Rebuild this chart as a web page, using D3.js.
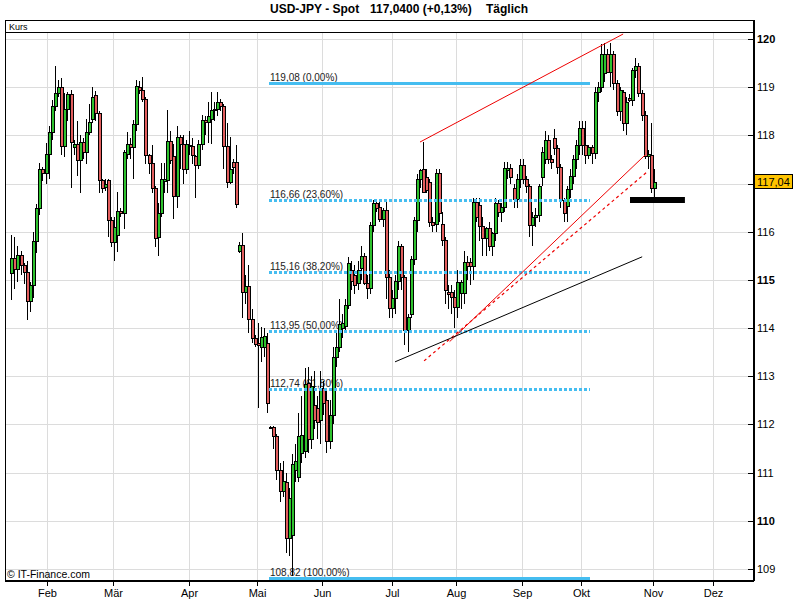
<!DOCTYPE html>
<html><head><meta charset="utf-8">
<script src="https://cdn.jsdelivr.net/npm/d3@7"></script>
<style>body{margin:0;background:#fff} svg{display:block;font-family:"Liberation Sans",Arial,sans-serif}</style>
</head><body><svg id="c" width="800" height="600"></svg>
<script>
const open=[115.15,115.46,115.22,115.51,115.32,115.17,114.57,114.90,115.80,116.50,117.30,117.22,117.62,118.08,118.60,118.89,119.01,117.78,118.54,118.85,117.75,117.83,117.48,117.87,117.66,118.08,118.33,118.84,118.46,117.07,116.93,117.07,116.25,115.78,115.94,116.43,116.39,117.62,117.83,117.76,118.24,119.00,118.95,118.75,117.60,117.42,116.91,115.90,116.39,117.05,117.07,117.89,117.57,116.75,117.96,117.83,117.31,117.80,117.78,117.57,117.38,117.82,118.32,118.27,118.33,118.53,118.55,118.70,118.60,117.78,117.03,117.44,117.44,115.61,115.72,114.74,114.87,114.19,113.79,113.70,113.61,113.61,113.70,111.93,111.95,111.76,111.06,110.61,110.80,109.64,109.71,111.06,110.92,111.40,111.44,112.87,111.69,112.40,112.35,112.10,112.75,112.50,111.65,112.20,113.39,113.60,114.00,114.05,114.48,115.21,115.10,114.93,115.25,115.50,114.93,114.83,116.14,116.59,116.52,116.27,116.45,115.07,114.41,114.62,114.97,115.70,115.07,113.96,114.30,115.44,116.24,117.10,117.30,117.14,117.04,116.20,116.17,117.21,116.17,115.83,114.75,114.75,114.65,114.44,114.72,114.72,115.38,115.38,115.28,116.62,116.55,116.11,115.86,116.07,115.70,115.97,116.59,116.42,116.52,117.28,117.32,116.90,116.68,117.10,117.38,117.10,116.94,116.14,116.30,116.35,117.14,117.52,117.90,117.52,117.94,117.73,117.35,116.66,116.53,116.88,117.15,117.50,117.80,118.15,117.80,117.60,117.75,117.64,118.90,119.00,119.30,119.69,119.32,119.69,119.08,118.50,118.90,118.25,118.78,118.74,119.36,119.43,118.88,118.43,117.57,117.60,116.91];
const high=[115.94,115.89,115.70,115.60,115.35,115.40,114.95,116.00,116.58,117.43,117.35,117.85,118.20,118.74,119.43,119.15,119.19,118.87,118.90,118.94,117.90,118.30,118.00,117.95,118.33,118.65,119.01,118.92,118.50,117.10,117.10,117.10,116.30,116.30,116.82,116.50,117.70,118.08,117.95,118.32,119.15,119.12,119.22,118.80,117.62,117.80,116.95,116.60,117.42,117.42,118.53,118.10,117.83,118.20,118.00,118.00,117.90,118.10,117.95,117.60,117.90,118.42,118.40,118.70,118.91,118.70,118.90,118.75,118.65,118.25,117.97,117.50,117.80,115.78,115.97,115.10,115.30,114.40,113.85,114.10,114.03,114.00,113.90,111.97,111.97,111.80,111.20,111.24,111.00,110.68,111.38,111.60,112.24,112.60,113.18,113.20,113.00,113.10,112.60,113.10,112.90,112.70,112.50,113.60,113.90,114.60,114.30,114.60,115.48,115.40,115.30,115.40,115.70,115.55,115.10,116.20,116.66,116.66,116.66,116.50,116.66,115.20,114.80,115.10,115.80,115.75,115.10,114.30,115.50,116.30,117.20,117.30,117.87,117.30,117.10,116.30,117.30,117.30,116.40,115.90,114.90,114.90,114.80,115.20,115.00,115.60,115.50,115.45,116.70,116.70,116.70,116.30,116.10,116.20,116.00,116.70,116.65,116.60,117.45,117.45,117.40,117.00,117.20,117.50,117.50,117.15,117.00,116.40,116.50,117.00,117.75,118.10,118.00,117.60,118.14,117.80,117.40,116.70,116.95,117.30,117.60,117.90,118.30,118.30,118.30,117.80,117.80,119.00,119.10,119.90,119.92,119.80,119.92,119.75,119.15,119.00,118.95,118.80,118.85,119.40,119.60,119.50,118.95,118.50,117.70,118.25,117.30];
const low=[114.58,114.81,114.95,115.10,114.92,114.17,114.33,114.62,115.55,116.35,117.05,117.00,117.10,117.90,118.50,118.80,117.60,117.56,118.30,116.90,117.60,117.15,116.80,117.50,117.40,118.00,118.25,118.30,116.80,116.80,116.85,115.90,115.68,115.40,115.58,116.30,116.06,117.50,117.50,117.10,118.10,118.85,118.70,117.40,117.20,116.80,115.68,115.50,116.30,116.80,116.80,117.40,116.27,116.50,117.30,117.00,117.20,117.60,117.40,116.70,117.30,117.70,118.00,117.85,117.83,118.30,118.40,118.50,117.30,116.90,117.00,117.20,116.50,115.55,114.22,114.50,113.90,113.70,113.60,112.35,113.30,113.40,112.24,111.90,111.50,110.85,110.40,110.50,109.33,109.26,108.85,110.80,110.80,111.20,111.30,111.40,111.50,111.90,111.70,111.60,112.20,111.40,111.50,112.00,113.20,113.50,113.80,113.90,114.40,114.80,114.70,114.80,115.00,114.90,114.60,114.70,116.00,116.40,116.20,116.10,114.60,114.20,114.20,114.30,114.80,114.80,113.65,113.50,114.20,115.30,116.00,116.90,116.80,116.80,116.10,116.00,116.00,116.20,115.70,114.50,114.40,114.30,114.00,114.20,114.40,114.50,115.00,114.90,115.00,116.20,115.80,115.50,115.50,115.60,115.50,115.80,116.30,116.20,116.40,117.10,117.00,116.50,116.50,116.90,117.00,116.80,115.90,115.70,116.10,116.20,116.95,117.40,117.40,117.30,117.60,117.20,116.50,116.20,116.20,116.70,117.00,117.30,117.60,117.60,117.40,117.50,117.40,117.50,118.70,118.90,119.10,119.30,119.00,118.95,118.40,118.30,118.10,118.00,118.70,118.60,119.20,118.80,118.30,117.50,117.30,116.80,116.60];
const close=[115.46,115.22,115.51,115.32,115.17,114.57,114.90,115.80,116.50,117.30,117.22,117.62,118.08,118.60,118.89,119.01,117.78,118.54,118.85,117.86,117.83,117.48,117.87,117.66,118.08,118.28,118.80,118.46,117.07,116.90,117.00,116.25,115.78,116.10,116.43,116.39,117.65,117.83,117.76,118.24,119.03,118.95,118.75,117.60,117.42,116.91,115.88,116.39,117.10,117.10,117.89,117.49,116.75,117.96,117.83,117.31,117.83,117.78,117.60,117.38,117.82,118.32,118.27,118.40,118.53,118.55,118.70,118.60,117.78,117.03,117.31,117.35,116.58,115.72,114.74,114.87,114.19,113.79,113.68,113.65,113.81,113.84,112.45,111.95,111.76,111.06,110.61,110.82,109.64,110.47,111.17,111.24,111.76,111.78,112.83,111.69,112.80,112.10,112.05,112.75,112.45,111.65,112.20,113.39,113.60,114.08,114.10,114.48,115.35,114.97,114.90,115.21,115.50,114.93,114.83,116.14,116.59,116.50,116.27,116.45,115.07,114.41,114.62,114.97,115.70,115.07,113.96,114.23,115.44,116.24,117.10,117.28,116.83,116.87,116.21,116.15,117.21,116.38,115.83,114.79,114.70,114.65,114.44,114.96,114.96,115.38,115.28,115.28,116.62,116.31,116.11,115.86,116.07,115.70,115.97,116.59,116.42,116.52,117.32,117.32,117.14,116.68,117.10,117.38,117.10,116.94,116.14,116.30,116.35,116.94,117.66,117.90,117.52,117.45,117.73,117.35,116.66,116.38,116.88,117.15,117.50,117.80,118.15,117.80,117.60,117.75,117.64,118.90,119.00,119.69,119.69,119.32,119.69,119.08,118.50,118.95,118.25,118.70,118.74,119.36,119.43,118.88,118.43,117.57,117.62,116.91,117.04];

const monthLabels=["Feb","Mär","Apr","Mai","Jun","Jul","Aug","Sep","Okt","Nov","Dez"];
const monthIdx=[11.56,32.71,56.87,78.67,99.67,121.96,142.6,163.6,182.6,205.8,224.8];
const yTicks=[109,110,111,112,113,114,115,116,117,118,119,120];
const boldTicks=[110,115,120];
const fibPrices=[119.08,116.66,115.16,113.95,112.74,108.82];
const fibLabels=["119,08 (0,00%)","116,66 (23,60%)","115,16 (38,20%)","113,95 (50,00%)","112,74 (61,80%)","108,82 (100,00%)"];
const fibDotted=[false,true,true,true,true,false];
const fibFromIdx=82.6, fibToIdx=185.5;
// trend lines: [startIdx, startPrice, endIdx, endPrice]
const redSolidLines=[[131.0,117.862,196.1,120.104],[140.5,113.72,203.1,117.59]];
const redDashedLines=[[132.3,113.32,204.1,117.26]];
const blackLines=[[123.0,113.30,202.2,115.48]];
const markerBar=[198.3,215.9,116.66];
const lastPrice=117.04;
const lastLabel="117,04";
const titleParts=["USD-JPY - Spot","117,0400 (+0,13%)","Täglich"];

const svg=d3.select("#c");
const L=5,R=753,T=33,B=580;
const x=d3.scaleLinear().domain([-2,237.4]).range([L,752]);
const y=d3.scaleLinear().domain([108.772,120.125]).range([B,T]);

// title
const tx=[270,370,486];
titleParts.forEach((t,i)=>svg.append("text").attr("x",tx[i]).attr("y",13).attr("font-size",12).attr("font-weight","bold").text(t));

// Kurs box
svg.append("rect").attr("x",L+0.5).attr("y",20.5).attr("width",R-L).attr("height",12).attr("fill","#fff").attr("stroke","#000");
svg.append("text").attr("x",9).attr("y",30).attr("font-size",9).text("Kurs");

const g=svg.append("g").attr("shape-rendering","crispEdges");
// grid
g.selectAll(".hg").data(yTicks).enter().append("line")
 .attr("x1",L).attr("x2",R).attr("y1",d=>Math.round(y(d))+0.5).attr("y2",d=>Math.round(y(d))+0.5)
 .attr("stroke","#dcdcdc");
g.selectAll(".vg").data(monthIdx).enter().append("line")
 .attr("x1",d=>Math.round(x(d))+0.5).attr("x2",d=>Math.round(x(d))+0.5).attr("y1",T).attr("y2",B)
 .attr("stroke","#dcdcdc");

// fib labels (under candles)
const fx1=x(fibFromIdx), fx2=x(fibToIdx);
fibPrices.forEach((p,i)=>{
  svg.append("text").attr("x",fx1+1).attr("y",Math.round(y(p))-2.5).attr("font-size",10).attr("fill","#222").text(fibLabels[i]);
});

// candles
const cg=svg.append("g").attr("shape-rendering","crispEdges");
open.forEach((o,i)=>{
  const c=close[i];
  const cx=Math.round(x(i));
  const yh=Math.round(y(high[i])), yl=Math.round(y(low[i]));
  cg.append("rect").attr("x",cx).attr("y",yh).attr("width",1).attr("height",Math.max(1,yl-yh)).attr("fill","#000");
  const top=Math.round(y(Math.max(o,c))), bot=Math.round(y(Math.min(o,c)));
  const h=Math.max(bot-top,1);
  cg.append("rect").attr("x",cx-1).attr("y",top).attr("width",4).attr("height",h+1).attr("fill","#000");
  if(h>=2) cg.append("rect").attr("x",cx).attr("y",top+1).attr("width",2).attr("height",h-1).attr("fill",c>=o?"#2ec22e":"#e25e5e");
});

// fib lines
fibPrices.forEach((p,i)=>{
  const yy=Math.round(y(p))+0.5;
  svg.append("line").attr("x1",fx1).attr("x2",fx2).attr("y1",yy).attr("y2",yy)
   .attr("stroke","#45bdf0").attr("stroke-width",3).attr("shape-rendering","crispEdges")
   .attr("stroke-dasharray",fibDotted[i]?"3,2":null);
});

// trend lines
const line=(d,col,dash,w)=>svg.append("line").attr("x1",x(d[0])).attr("y1",y(d[1])).attr("x2",x(d[2])).attr("y2",y(d[3]))
   .attr("stroke",col).attr("stroke-width",w).attr("stroke-dasharray",dash);
redSolidLines.forEach(d=>line(d,"#ee0000",null,1));
redDashedLines.forEach(d=>line(d,"#ee0000","3,3",1.2));
blackLines.forEach(d=>line(d,"#000",null,1));

// marker bar
svg.append("rect").attr("x",x(markerBar[0])).attr("width",x(markerBar[1])-x(markerBar[0]))
  .attr("y",Math.round(y(markerBar[2]))-3).attr("height",6).attr("fill","#000");

// frame
const fg=svg.append("g").attr("shape-rendering","crispEdges");
fg.append("line").attr("x1",L+0.5).attr("x2",L+0.5).attr("y1",20).attr("y2",B+1).attr("stroke","#000");
fg.append("line").attr("x1",L).attr("x2",R+1).attr("y1",B+0.5).attr("y2",B+0.5).attr("stroke","#000").attr("stroke-width",2);
fg.append("line").attr("x1",R+1).attr("x2",R+1).attr("y1",20).attr("y2",B+1).attr("stroke","#000").attr("stroke-width",2);

// right axis (the label next to the last-price box is covered by it, as in the reference)
const ly=Math.round(y(lastPrice));
yTicks.forEach(t=>{
  const yy=Math.round(y(t))+0.5;
  fg.append("line").attr("x1",R-5).attr("x2",R).attr("y1",yy).attr("y2",yy).attr("stroke","#000");
  if(Math.abs(yy-ly)<14) return;
  svg.append("text").attr("x",R+4).attr("y",yy).attr("dy","0.35em").attr("font-size",11)
    .attr("font-weight",boldTicks.includes(t)?"bold":"normal").text(t);
});
// bottom axis
monthIdx.forEach((m,i)=>{
  const xx=Math.round(x(m))+0.5;
  fg.append("line").attr("x1",xx).attr("x2",xx).attr("y1",B).attr("y2",B+6).attr("stroke","#000");
  svg.append("text").attr("x",xx).attr("y",597).attr("text-anchor","middle").attr("font-size",11).text(monthLabels[i]);
});

// last price box
svg.append("rect").attr("x",R+1.5).attr("y",ly-7.5).attr("width",38).attr("height",14).attr("fill","#ffc400").attr("stroke","#000");
svg.append("text").attr("x",R+4).attr("y",ly).attr("dy","0.36em").attr("font-size",11).text(lastLabel);

// copyright
svg.append("text").attr("x",7).attr("y",578).attr("font-size",10.5).text("© IT-Finance.com");
</script></body></html>
